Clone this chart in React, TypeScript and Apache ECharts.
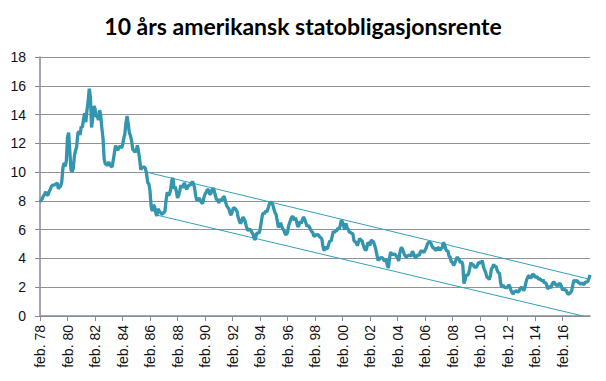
import React, { useEffect, useRef } from "react";
import * as echarts from "echarts";

// Monthly 10-year US treasury yields (%), starting Feb 1978
const yields1978to1987 = [
  7.95, 8.04, 8.15, 8.35, 8.46, 8.64, 8.41, 8.42, 8.64, 8.81, 9.01,
  9.10, 9.10, 9.12, 9.18, 9.25, 8.85, 8.95, 9.03, 9.33, 10.30, 10.65, 10.39,
  10.80, 12.41, 12.75, 11.47, 10.18, 10.0, 10.25, 11.10, 11.51, 11.75, 12.68, 12.84,
  12.57, 13.19, 13.12, 13.68, 14.10, 13.47, 14.28, 14.94, 15.8, 15.2, 13.1, 13.72,
  14.59, 14.43, 13.86, 13.87, 13.62, 14.30, 13.95, 13.06, 12.34, 10.91, 10.55, 10.54,
  10.46, 10.72, 10.51, 10.40, 10.38, 10.85, 11.38, 11.85, 11.65, 11.54, 11.69, 11.83,
  11.67, 11.84, 12.32, 12.63, 13.41, 13.9, 13.36, 12.72, 12.52, 12.16, 11.57, 11.50,
  11.38, 11.51, 11.86, 11.43, 10.85, 10.16, 10.31, 10.33, 10.37, 10.24, 9.9, 9.26,
  9.19, 8.70, 7.6, 7.3, 7.71, 7.6, 7.2, 6.95, 7.45, 7.3, 7.2, 7.11,
  7.08, 7.2, 7.25, 8.02, 8.61, 8.40, 8.45, 8.76, 9.42, 9.6, 8.86, 8.99,
];
const yields1988to1997 = [
  8.67, 8.21, 8.37, 8.72, 9.09, 8.92, 9.06, 9.26, 8.98, 8.80, 8.96, 9.11,
  9.09, 9.17, 9.36, 9.18, 8.86, 8.28, 8.02, 8.11, 8.19, 8.01, 7.87, 7.84,
  8.21, 8.47, 8.59, 8.79, 8.76, 8.48, 8.47, 8.75, 8.89, 8.72, 8.39, 8.08,
  8.09, 7.85, 8.11, 8.04, 8.07, 8.28, 8.27, 7.90, 7.65, 7.53, 7.42, 7.09,
  7.03, 7.34, 7.54, 7.48, 7.39, 7.26, 6.84, 6.59, 6.42, 6.59, 6.87, 6.77,
  6.60, 6.26, 5.98, 5.97, 6.04, 5.96, 5.81, 5.68, 5.36, 5.33, 5.72, 5.77,
  5.75, 5.97, 6.48, 6.97, 7.18, 7.10, 7.30, 7.24, 7.46, 7.74, 7.96, 7.81,
  7.78, 7.47, 7.20, 7.06, 6.63, 6.17, 6.28, 6.49, 6.20, 6.04, 5.93, 5.71,
  5.65, 5.81, 6.27, 6.51, 6.74, 6.91, 6.87, 6.64, 6.83, 6.53, 6.20, 6.30,
  6.58, 6.42, 6.69, 6.89, 6.71, 6.49, 6.22, 6.30, 6.21, 6.03, 5.88, 5.81,
];
const yields1998to2007 = [
  5.54, 5.57, 5.65, 5.64, 5.65, 5.50, 5.46, 5.34, 4.81, 4.53, 4.83, 4.65,
  4.72, 5.00, 5.23, 5.18, 5.54, 5.90, 5.79, 5.94, 5.92, 6.11, 6.03, 6.28,
  6.66, 6.52, 6.26, 5.99, 6.44, 6.10, 6.05, 5.83, 5.80, 5.74, 5.72, 5.24,
  5.16, 5.10, 4.89, 5.14, 5.39, 5.28, 5.24, 4.97, 4.73, 4.57, 4.65, 5.09,
  5.04, 4.91, 5.28, 5.21, 5.16, 4.93, 4.65, 4.26, 3.87, 3.94, 4.05, 4.03,
  4.05, 3.90, 3.81, 3.96, 3.57, 3.33, 3.98, 4.45, 4.27, 4.29, 4.30, 4.27,
  4.15, 4.08, 3.83, 4.35, 4.72, 4.73, 4.50, 4.28, 4.13, 4.10, 4.19, 4.23,
  4.22, 4.17, 4.50, 4.34, 4.14, 4.00, 4.18, 4.26, 4.20, 4.46, 4.54, 4.47,
  4.42, 4.57, 4.72, 4.99, 5.11, 5.11, 5.09, 4.88, 4.72, 4.73, 4.60, 4.56,
  4.76, 4.72, 4.56, 4.69, 4.75, 5.10, 5.00, 4.67, 4.52, 4.53, 4.15, 4.10,
];
const yields2008to2018 = [
  3.74, 3.74, 3.51, 3.68, 3.88, 4.10, 4.01, 3.89, 3.69, 3.81, 3.53, 2.25,
  2.52, 2.87, 2.82, 2.93, 3.29, 3.72, 3.56, 3.59, 3.40, 3.39, 3.40, 3.59,
  3.73, 3.69, 3.73, 3.85, 3.42, 3.20, 3.01, 2.70, 2.65, 2.54, 2.76, 3.29,
  3.39, 3.58, 3.41, 3.46, 3.17, 3.00, 3.00, 2.30, 1.98, 2.15, 2.01, 1.98,
  1.97, 1.97, 2.17, 2.05, 1.80, 1.62, 1.53, 1.68, 1.72, 1.75, 1.65, 1.72,
  1.91, 1.98, 1.96, 1.76, 1.93, 2.30, 2.58, 2.74, 2.81, 2.62, 2.72, 2.90,
  2.86, 2.71, 2.72, 2.71, 2.56, 2.60, 2.54, 2.42, 2.53, 2.30, 2.33, 2.21,
  1.88, 1.98, 2.04, 1.94, 2.20, 2.36, 2.32, 2.17, 2.17, 2.07, 2.26, 2.24,
  2.09, 1.78, 1.89, 1.81, 1.81, 1.64, 1.50, 1.56, 1.63, 1.76, 2.14, 2.49,
  2.43, 2.42, 2.48, 2.30, 2.30, 2.19, 2.32, 2.21, 2.20, 2.36, 2.35, 2.40,
  2.58, 2.86,
];

const monthNames = ["jan.", "feb.", "mar.", "apr.", "mai", "jun.", "jul.", "aug.", "sep.", "okt.", "nov.", "des."];
const startYear = 1978;
const startMonth = 1; // February

// Channel (trend) lines: [category index, value]
const upperChannel = [[93, 10.0], [480, 2.55]];
const lowerChannel = [[100, 7.05], [474, 0]];

const title = "10 års amerikansk statobligasjonsrente";

export default function App() {
  const ref = useRef<HTMLDivElement>(null);
  useEffect(() => {
    if (!ref.current) return;
    const chart = echarts.init(ref.current, null, { renderer: "svg" });
    const values = [...yields1978to1987, ...yields1988to1997, ...yields1998to2007, ...yields2008to2018];
    const categories = values.map((_, i) => {
      const m = startMonth + i;
      const y = startYear + Math.floor(m / 12);
      return monthNames[m % 12] + " " + String(y % 100).padStart(2, "0");
    });
    const showIdx = (i: number) => i % 24 === 0 && i <= 456;
    const toCat = (pts: number[][]) => pts.map((p) => [categories[p[0]], p[1]]);
    chart.setOption({
      animation: false,
      backgroundColor: "#ffffff",
      title: {
        text: title,
        left: "center",
        top: 9,
        textStyle: { fontFamily: "Lato", fontWeight: "bold", fontSize: 23, color: "#000" },
      },
      grid: { left: 40, right: 16, top: 57, bottom: 65 },
      xAxis: {
        type: "category",
        data: categories,
        boundaryGap: false,
        axisLine: { lineStyle: { color: "#868a99", width: 1.5 } },
        axisTick: { interval: (i: number) => showIdx(i), length: 5, lineStyle: { color: "#868a99" } },
        axisLabel: {
          interval: (i: number) => showIdx(i),
          rotate: 90,
          margin: 9,
          fontFamily: "Liberation Sans",
          fontSize: 14,
          color: "#111",
        },
        splitLine: { show: false },
      },
      yAxis: {
        type: "value",
        min: 0,
        max: 18,
        interval: 2,
        axisLine: { show: true, lineStyle: { color: "#868a99", width: 1.5 } },
        axisTick: { show: true, length: 5, lineStyle: { color: "#868a99" } },
        axisLabel: { fontFamily: "Liberation Sans", fontSize: 14, color: "#111", margin: 14 },
        splitLine: { lineStyle: { color: "#8f929c", width: 1 } },
      },
      series: [
        {
          type: "line",
          data: values,
          showSymbol: false,
          lineStyle: { color: "#3396ae", width: 3.3 },
          z: 3,
        },
        {
          type: "line",
          data: toCat(upperChannel),
          showSymbol: false,
          lineStyle: { color: "#31a0c0", width: 1 },
          z: 2,
        },
        {
          type: "line",
          data: toCat(lowerChannel),
          showSymbol: false,
          lineStyle: { color: "#31a0c0", width: 1 },
          z: 2,
        },
      ],
    });
    return () => chart.dispose();
  }, []);
  return <div ref={ref} style={{ width: 606, height: 381, position: "absolute", left: 0, top: 0 }} />;
}
